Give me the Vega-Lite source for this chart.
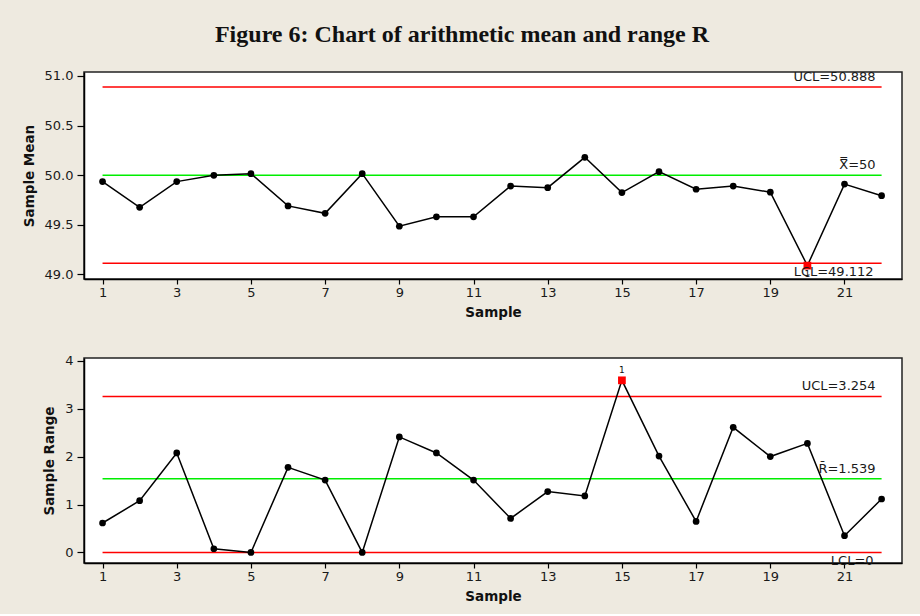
{
  "$schema": "https://vega.github.io/schema/vega-lite/v6.json",
  "background": "#EEEAE0",
  "padding": {"left": 21, "top": 23, "right": 18, "bottom": 10},
  "title": {
    "text": "Figure 6: Chart of arithmetic mean and range R",
    "font": "Liberation Serif",
    "fontSize": 24,
    "fontWeight": "bold",
    "color": "#111111",
    "anchor": "middle",
    "frame": "bounds",
    "offset": 22
  },
  "datasets": {
    "samples": [
      {"sample": 1, "mean": 49.935, "range": 0.614},
      {"sample": 2, "mean": 49.676, "range": 1.079},
      {"sample": 3, "mean": 49.935, "range": 2.075},
      {"sample": 4, "mean": 49.998, "range": 0.077},
      {"sample": 5, "mean": 50.015, "range": 0.0},
      {"sample": 6, "mean": 49.69, "range": 1.775},
      {"sample": 7, "mean": 49.615, "range": 1.51},
      {"sample": 8, "mean": 50.015, "range": 0.0},
      {"sample": 9, "mean": 49.485, "range": 2.41},
      {"sample": 10, "mean": 49.58, "range": 2.075},
      {"sample": 11, "mean": 49.58, "range": 1.51},
      {"sample": 12, "mean": 49.89, "range": 0.71},
      {"sample": 13, "mean": 49.874, "range": 1.27},
      {"sample": 14, "mean": 50.18, "range": 1.18},
      {"sample": 15, "mean": 49.824, "range": 3.59},
      {"sample": 16, "mean": 50.035, "range": 2.01},
      {"sample": 17, "mean": 49.858, "range": 0.647},
      {"sample": 18, "mean": 49.89, "range": 2.61},
      {"sample": 19, "mean": 49.828, "range": 2.0},
      {"sample": 20, "mean": 49.088, "range": 2.275},
      {"sample": 21, "mean": 49.91, "range": 0.35},
      {"sample": 22, "mean": 49.793, "range": 1.115}
    ],
    "meanLimits": [
      {"kind": "UCL", "value": 50.888, "label": "UCL=50.888", "start": 1, "end": 22},
      {"kind": "CL", "value": 50.0, "label": "X̿=50", "start": 1, "end": 22},
      {"kind": "LCL", "value": 49.112, "label": "LCL=49.112", "start": 1, "end": 22}
    ],
    "rangeLimits": [
      {"kind": "UCL", "value": 3.254, "label": "UCL=3.254", "start": 1, "end": 22},
      {"kind": "CL", "value": 1.539, "label": "R̄=1.539", "start": 1, "end": 22},
      {"kind": "LCL", "value": 0.0, "label": "LCL=0", "start": 1, "end": 22}
    ]
  },
  "spacing": 33,
  "vconcat": [
    {
      "width": 818,
      "height": 207,
      "encoding": {
        "x": {
          "type": "quantitative",
          "scale": {"domain": [0.5, 22.55], "nice": false, "zero": false},
          "axis": {"title": "Sample", "values": [1, 3, 5, 7, 9, 11, 13, 15, 17, 19, 21], "format": "d"}
        },
        "y": {
          "type": "quantitative",
          "scale": {"domain": [48.953, 51.04], "nice": false, "zero": false},
          "axis": {"title": "Sample Mean", "values": [49, 49.5, 50, 50.5, 51], "format": ".1f"}
        }
      },
      "layer": [
        {
          "data": {"name": "meanLimits"},
          "mark": {"type": "rule", "strokeWidth": 1.5},
          "encoding": {
            "x": {"field": "start"},
            "x2": {"field": "end"},
            "y": {"field": "value"},
            "color": {"field": "kind", "type": "nominal", "scale": {"domain": ["UCL", "CL", "LCL"], "range": ["#FF0000", "#00EE00", "#FF0000"]}, "legend": null}
          }
        },
        {
          "data": {"name": "samples"},
          "mark": {"type": "line", "color": "#000000", "strokeWidth": 1.5},
          "encoding": {"x": {"field": "sample"}, "y": {"field": "mean"}}
        },
        {
          "data": {"name": "samples"},
          "transform": [{"filter": "datum.mean >= 49.112"}],
          "mark": {"type": "circle", "color": "#000000", "opacity": 1, "size": 45},
          "encoding": {"x": {"field": "sample"}, "y": {"field": "mean"}}
        },
        {
          "data": {"name": "samples"},
          "transform": [{"filter": "datum.mean < 49.112"}],
          "mark": {"type": "square", "color": "#FF0000", "opacity": 1, "filled": true, "size": 60},
          "encoding": {"x": {"field": "sample"}, "y": {"field": "mean"}}
        },
        {
          "data": {"name": "samples"},
          "transform": [{"filter": "datum.mean < 49.112"}],
          "mark": {"type": "text", "text": "1", "font": "DejaVu Sans", "fontSize": 9, "baseline": "top", "dy": 4, "color": "#111111"},
          "encoding": {"x": {"field": "sample"}, "y": {"field": "mean"}}
        },
        {
          "data": {"name": "meanLimits"},
          "transform": [{"filter": "datum.kind != 'LCL'"}],
          "mark": {"type": "text", "align": "right", "baseline": "bottom", "dx": -6, "dy": -3, "font": "DejaVu Sans", "fontSize": 13, "color": "#1a1a1a"},
          "encoding": {"x": {"field": "end"}, "y": {"field": "value"}, "text": {"field": "label"}}
        },
        {
          "data": {"name": "meanLimits"},
          "transform": [{"filter": "datum.kind == 'LCL'"}],
          "mark": {"type": "text", "align": "right", "baseline": "top", "dx": -8, "dy": 3, "font": "DejaVu Sans", "fontSize": 13, "color": "#1a1a1a"},
          "encoding": {"x": {"field": "end"}, "y": {"field": "value"}, "text": {"field": "label"}}
        }
      ]
    },
    {
      "width": 818,
      "height": 205,
      "encoding": {
        "x": {
          "type": "quantitative",
          "scale": {"domain": [0.5, 22.55], "nice": false, "zero": false},
          "axis": {"title": "Sample", "values": [1, 3, 5, 7, 9, 11, 13, 15, 17, 19, 21], "format": "d"}
        },
        "y": {
          "type": "quantitative",
          "scale": {"domain": [-0.22, 4.056], "nice": false, "zero": false},
          "axis": {"title": "Sample Range", "values": [0, 1, 2, 3, 4], "format": "d"}
        }
      },
      "layer": [
        {
          "data": {"name": "rangeLimits"},
          "mark": {"type": "rule", "strokeWidth": 1.5},
          "encoding": {
            "x": {"field": "start"},
            "x2": {"field": "end"},
            "y": {"field": "value"},
            "color": {"field": "kind", "type": "nominal", "scale": {"domain": ["UCL", "CL", "LCL"], "range": ["#FF0000", "#00EE00", "#FF0000"]}, "legend": null}
          }
        },
        {
          "data": {"name": "samples"},
          "mark": {"type": "line", "color": "#000000", "strokeWidth": 1.5},
          "encoding": {"x": {"field": "sample"}, "y": {"field": "range"}}
        },
        {
          "data": {"name": "samples"},
          "transform": [{"filter": "datum.range <= 3.254"}],
          "mark": {"type": "circle", "color": "#000000", "opacity": 1, "size": 45},
          "encoding": {"x": {"field": "sample"}, "y": {"field": "range"}}
        },
        {
          "data": {"name": "samples"},
          "transform": [{"filter": "datum.range > 3.254"}],
          "mark": {"type": "square", "color": "#FF0000", "opacity": 1, "filled": true, "size": 60},
          "encoding": {"x": {"field": "sample"}, "y": {"field": "range"}}
        },
        {
          "data": {"name": "samples"},
          "transform": [{"filter": "datum.range > 3.254"}],
          "mark": {"type": "text", "text": "1", "font": "DejaVu Sans", "fontSize": 9, "baseline": "bottom", "dy": -5, "color": "#111111"},
          "encoding": {"x": {"field": "sample"}, "y": {"field": "range"}}
        },
        {
          "data": {"name": "rangeLimits"},
          "transform": [{"filter": "datum.kind != 'LCL'"}],
          "mark": {"type": "text", "align": "right", "baseline": "bottom", "dx": -6, "dy": -3, "font": "DejaVu Sans", "fontSize": 13, "color": "#1a1a1a"},
          "encoding": {"x": {"field": "end"}, "y": {"field": "value"}, "text": {"field": "label"}}
        },
        {
          "data": {"name": "rangeLimits"},
          "transform": [{"filter": "datum.kind == 'LCL'"}],
          "mark": {"type": "text", "align": "right", "baseline": "top", "dx": -8, "dy": 3, "font": "DejaVu Sans", "fontSize": 13, "color": "#1a1a1a"},
          "encoding": {"x": {"field": "end"}, "y": {"field": "value"}, "text": {"field": "label"}}
        }
      ]
    }
  ],
  "config": {
    "view": {"fill": "#FFFFFF", "stroke": "#222222", "strokeWidth": 1.5},
    "axis": {
      "grid": false,
      "domainColor": "#000000",
      "domainWidth": 1.5,
      "tickColor": "#000000",
      "tickWidth": 1.2,
      "labelFont": "DejaVu Sans",
      "labelFontSize": 13,
      "labelColor": "#1a1a1a",
      "titleFont": "DejaVu Sans",
      "titleFontSize": 13.5,
      "titleFontWeight": "bold",
      "titleColor": "#111111"
    },
    "axisX": {"tickSize": 5, "labelPadding": 2, "titlePadding": 6, "labelFlush": false},
    "axisY": {"tickSize": 7, "labelPadding": 4, "titlePadding": 8, "labelFlush": false}
  }
}
